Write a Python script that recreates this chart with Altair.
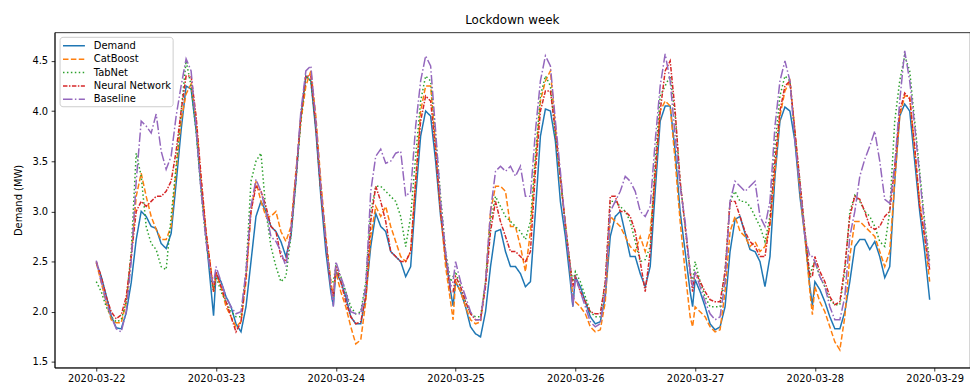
import altair as alt
import pandas as pd

series_names = ["Demand", "CatBoost", "TabNet", "Neural Network", "Baseline"]
series_colors = ["#1f77b4", "#ff7f0e", "#2ca02c", "#d62728", "#9467bd"]
series_dashes = [[1, 0], [5.55, 2.4], [1.5, 2.475], [4.5, 1.5, 1.5, 1.5], [9.6, 2.4, 1.5, 2.4]]

days = ["2020-03-22", "2020-03-23", "2020-03-24", "2020-03-25",
        "2020-03-26", "2020-03-27", "2020-03-28"]
hours_full = list(range(24)) + [23.5]
hours_last = list(range(24))
tick_days = ["2020-03-22", "2020-03-23", "2020-03-24", "2020-03-25",
             "2020-03-26", "2020-03-27", "2020-03-28", "2020-03-29"]

demand = [
    2.49, 2.35, 2.16, 1.96, 1.84, 1.83, 1.99, 2.29, 2.72, 3.00, 2.95, 2.85, 2.83, 2.68, 2.63, 2.78, 3.28, 3.81, 4.25, 4.22, 3.81, 3.24, 2.75, 2.22, 1.96,
    2.38, 2.30, 2.15, 2.05, 1.88, 1.80, 2.05, 2.50, 2.95, 3.10, 3.00, 2.85, 2.80, 2.70, 2.55, 2.75, 3.30, 3.95, 4.35, 4.30, 3.80, 3.15, 2.60, 2.20, 2.06,
    2.40, 2.30, 2.15, 1.95, 1.88, 1.88, 2.15, 2.65, 2.98, 2.85, 2.80, 2.60, 2.55, 2.50, 2.35, 2.45, 3.15, 3.75, 4.00, 3.95, 3.50, 2.95, 2.55, 2.20, 2.06,
    2.30, 2.20, 2.05, 1.85, 1.78, 1.75, 2.00, 2.45, 2.80, 2.82, 2.60, 2.45, 2.45, 2.38, 2.25, 2.30, 3.00, 3.75, 4.02, 4.00, 3.70, 3.10, 2.75, 2.30, 2.05,
    2.35, 2.25, 2.10, 1.95, 1.88, 1.90, 2.15, 2.75, 2.95, 3.00, 2.78, 2.55, 2.55, 2.38, 2.25, 2.45, 3.20, 3.90, 4.05, 4.05, 3.60, 3.00, 2.60, 2.20, 2.05,
    2.32, 2.20, 2.05, 1.88, 1.82, 1.85, 2.05, 2.60, 2.92, 2.95, 2.78, 2.62, 2.60, 2.50, 2.25, 2.55, 3.35, 3.90, 4.04, 4.00, 3.70, 3.15, 2.75, 2.25, 2.06,
    2.30, 2.22, 2.10, 1.95, 1.83, 1.83, 2.00, 2.30, 2.65, 2.72, 2.72, 2.62, 2.70, 2.55, 2.34, 2.45, 3.30, 3.95, 4.07, 4.00, 3.50, 3.00, 2.60, 2.12,
]
catboost = [
    2.49, 2.29, 2.09, 1.92, 1.89, 1.89, 2.09, 2.55, 3.15, 3.38, 3.15, 2.95, 2.82, 2.72, 2.72, 2.85, 3.41, 3.91, 4.17, 4.27, 3.91, 3.31, 2.78, 2.42, 2.20,
    2.38, 2.25, 2.05, 1.95, 1.85, 1.90, 2.30, 3.00, 3.30, 3.10, 2.95, 2.95, 3.00, 2.80, 2.70, 2.85, 3.40, 3.90, 4.25, 4.40, 3.95, 3.30, 2.75, 2.30, 2.15,
    2.40, 2.20, 2.05, 1.85, 1.68, 1.72, 2.10, 2.75, 3.05, 2.95, 3.05, 2.85, 2.70, 2.55, 2.50, 2.60, 3.30, 4.00, 4.25, 4.25, 3.65, 3.00, 2.45, 2.10, 1.92,
    2.30, 2.20, 2.05, 1.92, 1.88, 1.90, 2.30, 3.00, 3.25, 3.25, 3.20, 2.85, 2.85, 2.65, 2.40, 2.80, 3.50, 4.10, 4.30, 4.40, 3.85, 3.30, 2.90, 2.40, 2.15,
    2.10, 2.05, 1.98, 1.85, 1.80, 1.82, 2.10, 2.95, 2.90, 2.85, 2.75, 2.65, 2.60, 2.75, 2.60, 2.80, 3.35, 4.00, 4.10, 4.05, 3.50, 2.90, 2.40, 1.95, 1.85,
    2.05, 2.00, 1.95, 1.85, 1.80, 1.82, 2.20, 2.80, 2.95, 2.80, 2.75, 2.65, 2.70, 2.60, 2.65, 2.85, 3.40, 3.95, 4.20, 4.30, 3.80, 3.20, 2.75, 2.20, 1.97,
    2.25, 2.10, 2.00, 1.85, 1.70, 1.62, 1.95, 2.55, 2.90, 2.90, 2.85, 2.80, 2.75, 2.60, 2.45, 2.60, 3.30, 3.95, 4.15, 4.15, 3.60, 3.10, 2.75, 2.30,
]
tabnet = [
    2.30, 2.20, 2.05, 1.95, 1.90, 1.92, 2.10, 2.60, 3.58, 3.35, 2.85, 2.68, 2.62, 2.45, 2.42, 2.95, 3.45, 4.00, 4.50, 4.25, 3.80, 3.20, 2.70, 2.35, 2.20,
    2.35, 2.20, 2.10, 2.00, 1.95, 1.95, 2.40, 3.30, 3.50, 3.58, 3.00, 2.65, 2.45, 2.30, 2.35, 2.75, 3.30, 3.90, 4.35, 4.30, 3.85, 3.20, 2.70, 2.30, 2.30,
    2.45, 2.35, 2.20, 2.05, 1.98, 2.00, 2.30, 3.00, 3.25, 3.25, 3.20, 3.15, 3.10, 2.95, 2.65, 2.95, 3.55, 4.10, 4.35, 4.30, 3.75, 3.15, 2.60, 2.30, 2.35,
    2.40, 2.25, 2.10, 1.98, 1.95, 1.95, 2.30, 2.90, 3.15, 3.05, 2.95, 2.90, 2.85, 2.80, 2.72, 2.90, 3.55, 4.15, 4.35, 4.25, 3.75, 3.35, 2.85, 2.45, 2.30,
    2.40, 2.30, 2.15, 2.00, 1.95, 1.95, 2.30, 3.10, 3.10, 3.05, 3.00, 2.90, 2.70, 2.50, 2.52, 2.65, 3.50, 4.15, 4.25, 4.35, 3.95, 3.30, 2.85, 2.40, 2.30,
    2.50, 2.30, 2.15, 2.05, 2.05, 2.05, 2.40, 3.10, 3.20, 3.10, 3.10, 3.05, 2.95, 2.85, 2.70, 2.95, 3.65, 4.15, 4.35, 4.30, 3.75, 3.30, 2.80, 2.35, 2.45,
    2.50, 2.35, 2.25, 2.12, 2.07, 2.07, 2.40, 3.00, 3.16, 3.10, 3.00, 2.95, 2.85, 2.70, 2.65, 3.00, 3.90, 4.30, 4.55, 4.40, 3.90, 3.40, 2.90, 2.50,
]
neural = [
    2.50, 2.35, 2.15, 2.00, 1.93, 1.97, 2.15, 2.55, 3.00, 3.10, 3.05, 3.10, 3.15, 3.15, 3.20, 3.30, 3.60, 4.00, 4.35, 4.35, 3.95, 3.35, 2.80, 2.40, 2.20,
    2.40, 2.25, 2.10, 1.95, 1.80, 1.90, 2.35, 3.00, 3.25, 3.20, 3.05, 2.85, 2.80, 2.55, 2.50, 2.80, 3.35, 3.95, 4.35, 4.35, 3.85, 3.20, 2.70, 2.25, 2.15,
    2.45, 2.30, 2.10, 1.95, 1.88, 1.90, 2.15, 2.90, 3.25, 3.10, 2.90, 2.60, 2.55, 2.50, 2.50, 2.60, 3.30, 3.90, 4.15, 4.10, 3.60, 3.00, 2.55, 2.20, 2.20,
    2.35, 2.25, 2.10, 1.98, 1.92, 1.92, 2.25, 2.80, 3.10, 2.90, 2.75, 2.60, 2.60, 2.55, 2.50, 2.60, 3.40, 4.00, 4.20, 4.20, 3.80, 3.35, 2.85, 2.45, 2.25,
    2.35, 2.20, 2.10, 2.00, 1.98, 1.98, 2.30, 3.15, 3.15, 3.00, 3.00, 2.95, 2.80, 2.50, 2.20, 2.60, 3.40, 4.00, 4.40, 4.50, 4.00, 3.30, 2.85, 2.40, 2.20,
    2.40, 2.30, 2.20, 2.12, 2.10, 2.10, 2.40, 3.10, 3.10, 2.95, 2.80, 2.70, 2.65, 2.55, 2.55, 2.90, 3.50, 4.00, 4.25, 4.30, 3.80, 3.30, 2.80, 2.35, 2.35,
    2.55, 2.40, 2.30, 2.15, 2.07, 2.10, 2.45, 2.95, 3.15, 3.12, 3.00, 2.85, 2.82, 2.85, 2.95, 3.00, 3.45, 4.00, 4.18, 4.12, 3.65, 3.05, 2.75, 2.42,
]
baseline = [
    2.51, 2.30, 2.10, 1.95, 1.83, 1.80, 2.00, 2.50, 3.30, 3.90, 3.85, 3.78, 3.97, 3.60, 3.42, 3.55, 3.95, 4.25, 4.52, 4.40, 3.85, 3.20, 2.70, 2.35, 2.28,
    2.45, 2.30, 2.15, 2.05, 1.98, 2.00, 2.40, 3.05, 3.32, 3.20, 3.00, 2.75, 2.70, 2.60, 2.45, 2.80, 3.35, 4.00, 4.40, 4.45, 3.90, 3.25, 2.70, 2.25, 2.05,
    2.50, 2.35, 2.20, 2.00, 1.98, 1.98, 2.25, 3.20, 3.55, 3.62, 3.48, 3.50, 3.58, 3.60, 3.15, 3.20, 3.85, 4.30, 4.55, 4.45, 3.80, 3.10, 2.60, 2.25, 2.30,
    2.50, 2.30, 2.15, 2.00, 1.92, 1.92, 2.30, 3.00, 3.40, 3.45, 3.40, 3.45, 3.35, 3.45, 3.15, 3.15, 3.80, 4.30, 4.55, 4.45, 3.90, 3.40, 2.85, 2.40, 2.05,
    2.35, 2.20, 2.05, 1.90, 1.85, 1.88, 2.20, 3.00, 3.10, 3.20, 3.35, 3.30, 3.20, 3.00, 2.95, 3.05, 3.70, 4.25, 4.57, 4.30, 3.75, 3.25, 2.90, 2.40, 2.25,
    2.40, 2.25, 2.10, 1.98, 1.92, 1.95, 2.30, 3.10, 3.30, 3.25, 3.20, 3.25, 3.30, 2.95, 2.85, 3.10, 3.85, 4.30, 4.50, 4.30, 3.70, 3.25, 2.75, 2.55, 2.55,
    2.50, 2.35, 2.25, 2.05, 1.92, 1.92, 2.15, 2.75, 3.00, 3.35, 3.52, 3.65, 3.80, 3.50, 3.12, 3.08, 3.45, 4.10, 4.60, 4.30, 3.85, 3.35, 2.85, 2.45,
]

# timestamps
times = []
for i, day in enumerate(days):
    hrs = hours_full if i < len(days) - 1 else hours_last
    for h in hrs:
        t = pd.Timestamp(day) + pd.Timedelta(hours=h)
        times.append(t.strftime("%Y-%m-%dT%H:%M:%S"))

all_values = [demand, catboost, tabnet, neural, baseline]
rows = []
for name, vals in zip(series_names, all_values):
    for t, v in zip(times, vals):
        rows.append({"time": t, "value": v, "series": name})
df = pd.DataFrame(rows)

FONT = "DejaVu Sans"

legend = alt.Legend(
    title=None, orient="none", legendX=5, legendY=4.5, padding=1.5,
    fillColor="white", strokeColor="#cccccc", cornerRadius=3,
    labelFont=FONT, labelFontSize=10, labelColor="black",
    symbolType="M-1.7,0H1.7", symbolSize=169, symbolStrokeWidth=1.5,
    rowPadding=0.5, labelOffset=12.5, symbolOffset=5.5,
)

x_domain = [
    alt.DateTime(year=2020, month=3, date=21, hours=15, minutes=39),
    alt.DateTime(year=2020, month=3, date=29, hours=7, minutes=5),
]
tick_vals = [alt.DateTime(year=2020, month=3, date=int(d[-2:])) for d in tick_days]

chart = alt.Chart(df).mark_line(strokeWidth=1.5, strokeCap="butt").encode(
    x=alt.X("time:T", title=None,
            scale=alt.Scale(domain=x_domain, nice=False),
            axis=alt.Axis(values=tick_vals, format="%Y-%m-%d", labelFlush=False,
                          labelPadding=2.5)),
    y=alt.Y("value:Q", title="Demand (MW)",
            scale=alt.Scale(domain=[1.444, 4.784], nice=False, zero=False),
            axis=alt.Axis(values=[1.5, 2.0, 2.5, 3.0, 3.5, 4.0, 4.5], format=".1f",
                          titlePadding=8)),
    color=alt.Color("series:N", scale=alt.Scale(domain=series_names, range=series_colors),
                    legend=legend),
    strokeDash=alt.StrokeDash("series:N", scale=alt.Scale(domain=series_names, range=series_dashes),
                              legend=legend),
    order=alt.Order("time:T"),
).properties(
    width=923, height=338,
    title=alt.TitleParams("Lockdown week", font=FONT, fontSize=12, fontWeight="normal",
                          color="black", offset=5, anchor="middle"),
    autosize=alt.AutoSizeParams(type="none"),
    padding={"left": 47, "top": 23, "right": 0, "bottom": 15},
).configure_view(
    stroke="black", strokeWidth=0.8
).configure_axis(
    grid=False, domainColor="black", domainWidth=0.8, tickColor="black", tickWidth=0.8,
    tickSize=3.5, labelPadding=3.5, labelFont=FONT, labelFontSize=10, labelColor="black",
    titleFont=FONT, titleFontSize=10, titleFontWeight="normal", titleColor="black",
)

chart.save("out.html", embed_options={"renderer": "svg", "actions": False})
